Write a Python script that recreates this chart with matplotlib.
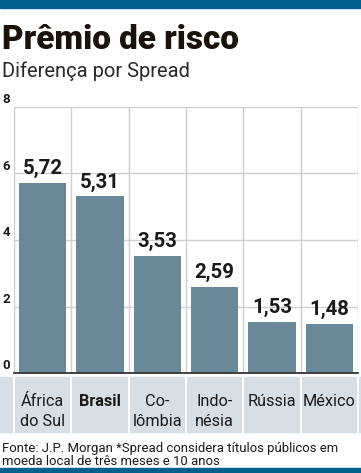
import matplotlib
matplotlib.use("Agg")
import matplotlib.pyplot as plt
import matplotlib.transforms as mtransforms
from matplotlib.patches import Rectangle

categories = [["África", "do Sul"], ["Brasil"], ["Co-", "lômbia"], ["Indo-", "nésia"], ["Rússia"], ["México"]]
values = [5.72, 5.31, 3.53, 2.59, 1.53, 1.48]
value_labels = ["5,72", "5,31", "3,53", "2,59", "1,53", "1,48"]
yticks = [0, 2, 4, 6, 8]
bold_category = "Brasil"

title = "Prêmio de risco"
subtitle = "Diferença por Spread"
footer = ["Fonte: J.P. Morgan *Spread considera títulos públicos em",
          "moeda local de três meses e 10 anos"]

W, H = 361, 473
fig = plt.figure(figsize=(W / 100, H / 100), dpi=100)
renderer = fig.canvas.get_renderer()

def fx(px):
    return px / W

def fy(py):
    return 1 - py / H

def fit(txt, target_px):
    bb = txt.get_window_extent(renderer=renderer)
    txt.set_fontsize(txt.get_fontsize() * target_px / bb.width)
    return txt

FAM = "Roboto"
BLUE = "#00628c"
BAR = "#6a8998"
GRID = "#cfcfcf"
BAND = "#d6dfe6"
INK = "#1a1a1a"

# top and bottom bars
fig.patches.append(Rectangle((0, fy(8)), 1, 8 / H, transform=fig.transFigure, color=BLUE, zorder=0))
fig.patches.append(Rectangle((0, 0), 1, 5 / H, transform=fig.transFigure, color=BLUE, zorder=0))

ax_l, ax_r, ax_t, ax_b = 14, 358, 107, 373
ax = fig.add_axes([fx(ax_l), fy(ax_b), fx(ax_r - ax_l), (ax_b - ax_t) / H])
x = list(range(len(values)))
ax.bar(x, values, width=0.82, color=BAR, zorder=2)
ax.set_xlim(-0.5, len(values) - 0.5)
ax.set_ylim(0, 8)
for s in ["top", "right", "left"]:
    ax.spines[s].set_visible(False)
ax.spines["bottom"].set_color("#333333")
ax.spines["bottom"].set_linewidth(1.3)
ax.spines["bottom"].set_zorder(3)
ax.set_xticks([])
ax.set_yticks([])
for t in yticks:
    if t > 0:
        ax.axhline(t, color=GRID, lw=1.0, zorder=1)
for b in [i - 0.5 for i in range(len(values) + 1)]:
    ax.axvline(b, color=GRID, lw=1.0, zorder=1)

# y tick labels
for t in yticks:
    ax.text(-0.5, t, str(t), transform=mtransforms.offset_copy(ax.transData, fig=fig, x=-4, y=1, units="dots"),
            ha="right", va="bottom", fontsize=9.5, fontweight="bold", color=INK, family=FAM)

# value labels
ref = None
for xi, v, lab in zip(x, values, value_labels):
    t = ax.annotate(lab, (xi, v), xytext=(0, 9 * 0.72), textcoords="offset points", ha="center", va="baseline",
                    fontsize=15, fontweight="bold", color=INK, family=FAM)
    if ref is None:
        fit(t, 40)
        ref = t.get_fontsize()
    else:
        t.set_fontsize(ref)

# category band
band_top, band_bot = 377, 432
fig.patches.append(Rectangle((0, fy(band_bot)), 1, (band_bot - band_top) / H, transform=fig.transFigure,
                             color=BAND, zorder=0))
blend = mtransforms.blended_transform_factory(ax.transData, fig.transFigure)
for b in [i - 0.5 for i in range(len(values) + 1)]:
    fig.lines.append(plt.Line2D([b, b], [fy(band_bot), fy(band_top)], transform=blend, color="white", lw=1.5))
cat_fs = None
for xi, lines in zip(x, categories):
    for k, line in enumerate(lines):
        t = fig.text(xi, fy(406 + 20 * k), line, transform=blend, ha="center", va="baseline", fontsize=12,
                     fontweight="bold" if line == bold_category else "normal", color=INK, family=FAM)
        if cat_fs is None:
            fit(t, 43)
            cat_fs = t.get_fontsize()
        else:
            t.set_fontsize(cat_fs)

tt = fig.text(fx(2), fy(49), title, ha="left", va="baseline", fontsize=22, fontweight="black",
              color="#1a1209", family=FAM)
fit(tt, 236)
st = fig.text(fx(2), fy(77), subtitle, ha="left", va="baseline", fontsize=14, color="#2a2a2a", family=FAM,
              fontweight="normal")
fit(st, 190)
f1 = fig.text(fx(2), fy(452), footer[0], ha="left", va="baseline", fontsize=10, color=INK, family=FAM)
fit(f1, 334)
fig.text(fx(2), fy(465), footer[1], ha="left", va="baseline", fontsize=f1.get_fontsize(), color=INK,
         family=FAM)

fig.savefig("out.png", dpi=100)
